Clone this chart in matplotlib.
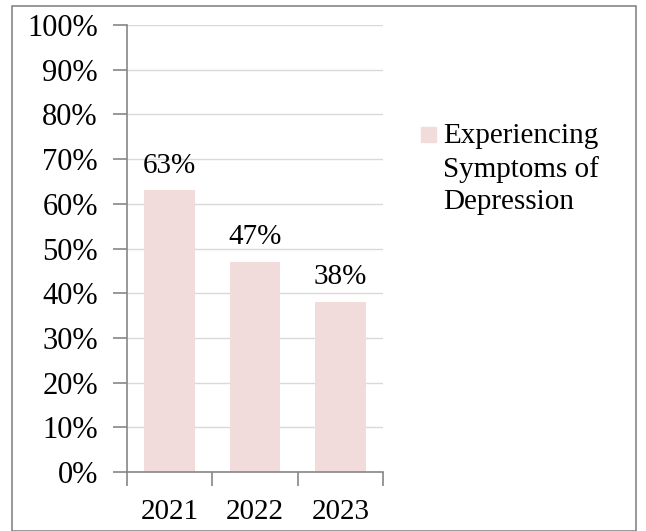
import numpy as np
import matplotlib.pyplot as plt
from matplotlib.patches import Rectangle

# datos del grafico
years = ['2021', '2022', '2023']
depression = [63, 47, 38]
y_ticks = [0, 10, 20, 30, 40, 50, 60, 70, 80, 90, 100]
serie = 'Experiencing\nSymptoms of\nDepression'

plt.rcParams['font.family'] = ['Liberation Serif', 'DejaVu Serif']
fs = 21

fig = plt.figure(figsize=(6.46, 5.31), dpi=100)
ax = fig.add_axes([127 / 646, 1 - 472 / 531, 256 / 646, 447 / 531])

x = np.arange(len(years))
bars = ax.bar(x, depression, width=0.59, color='#f2dcdb', zorder=2)

for b, v in zip(bars, depression):
    ax.text(b.get_x() + b.get_width() / 2, v + 4, f'{v}%', ha='center',
            va='baseline', fontsize=fs)

ax.set_xlim(-0.5, len(years) - 0.5)
ax.set_ylim(0, 100)
ax.set_yticks(y_ticks)
ax.set_yticklabels([f'{t}%' for t in y_ticks], fontsize=fs + 1)
ax.set_xticks(np.arange(-0.5, len(years), 1.0))
ax.set_xticklabels([])
ax.set_xticks(x, minor=True)
ax.set_xticklabels(years, minor=True, fontsize=fs)
ax.tick_params(axis='x', which='minor', length=0, pad=19.5)
ax.tick_params(axis='x', which='major', length=10, color='#868686', width=1.2)
ax.tick_params(axis='y', length=10, color='#868686', width=1.2, pad=11)

ax.grid(axis='y', color='#d9d9d9', linewidth=1, zorder=0)
for s in ('top', 'right'):
    ax.spines[s].set_visible(False)
for s in ('left', 'bottom'):
    ax.spines[s].set_color('#868686')
    ax.spines[s].set_linewidth(1.2)

# leyenda a la derecha
fig.patches.append(Rectangle((421 / 646, 1 - 142 / 531), 15 / 646, 15 / 531,
                             transform=fig.transFigure, color='#f2dcdb'))
fig.text(443 / 646, 1 - 123 / 531, serie, fontsize=fs, va='top', ha='left',
         linespacing=1.32)

# borde del grafico
fig.patches.append(Rectangle((12 / 646, 0), 624 / 646, 1 - 6 / 531,
                             transform=fig.transFigure, fill=False,
                             edgecolor='#868686', linewidth=1.2))

fig.savefig('out.png', dpi=100)
